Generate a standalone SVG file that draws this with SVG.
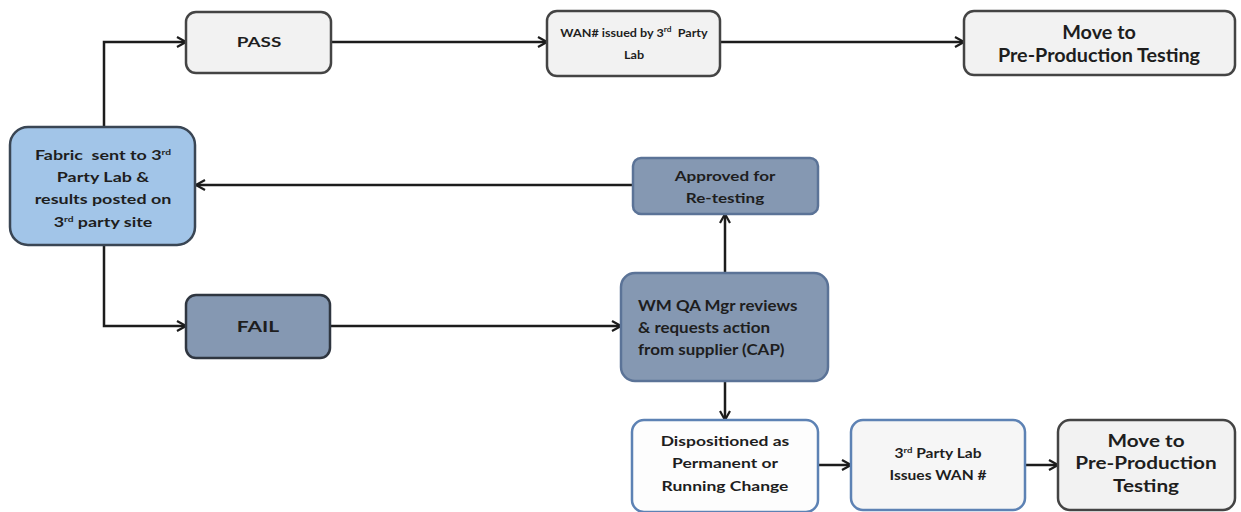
<svg xmlns="http://www.w3.org/2000/svg" width="1241" height="512" viewBox="0 0 1241 512">
<style>
text{font-family:"Lato","Open Sans","Liberation Sans",sans-serif;font-weight:bold;fill:#1e1e1e;text-anchor:middle}
.l{text-anchor:start}
.box{stroke-width:2.5}
.grey{fill:#f2f2f2;stroke:#444}
.blue{fill:#a2c5e8;stroke:#3a4654}
.slate{fill:#8598b2;stroke:#5b7397}
.white{fill:#fdfdfd;stroke:#5d82b4}
.conn path{fill:none;stroke:#1c1c1c;stroke-width:2.5}
.s{font-size:8px}
</style>
<defs>
<marker id="arr" viewBox="0 0 12 12" refX="11" refY="6" markerWidth="12" markerHeight="12" markerUnits="userSpaceOnUse" orient="auto">
<path d="M2,1 L11,6 L2,11" fill="none" stroke="#1c1c1c" stroke-width="2.2"/>
</marker>
</defs>
<g class="conn">
<path d="M104,127 V42 H186" marker-end="url(#arr)"/>
<path d="M331,42 H547" marker-end="url(#arr)"/>
<path d="M720,42 H964" marker-end="url(#arr)"/>
<path d="M633,185 H196" marker-end="url(#arr)"/>
<path d="M104,245 V326 H186" marker-end="url(#arr)"/>
<path d="M330,326 H621" marker-end="url(#arr)"/>
<path d="M725,273 V214" marker-end="url(#arr)"/>
<path d="M725,381 V420" marker-end="url(#arr)"/>
<path d="M818,465 H851" marker-end="url(#arr)"/>
<path d="M1025,465 H1058" marker-end="url(#arr)"/>
</g>
<g id="fabric">
<rect class="box blue" x="10" y="127" width="185" height="118" rx="18"/>
<g font-size="14">
<text transform="translate(103 160) scale(1.28 1)" xml:space="preserve">Fabric  sent to 3<tspan class="s" dy="-5">rd</tspan></text>
<text transform="translate(103 182) scale(1.28 1)">Party Lab &amp;</text>
<text transform="translate(103 204) scale(1.28 1)">results posted on</text>
<text transform="translate(103 227) scale(1.28 1)">3<tspan class="s" dy="-5">rd</tspan><tspan dy="5"> party site</tspan></text>
</g>
</g>
<g id="pass">
<rect class="box grey" x="186" y="12" width="145" height="61" rx="10"/>
<text font-size="14" transform="translate(259 47) scale(1.35 1)">PASS</text>
</g>
<g id="wan">
<rect class="box grey" x="547" y="11" width="173" height="65" rx="10"/>
<g font-size="12">
<text transform="translate(634 37) scale(1.05 1)" xml:space="preserve">WAN# issued by 3<tspan class="s" dy="-5">rd</tspan><tspan dy="5">  Party</tspan></text>
<text transform="translate(634 59) scale(1.05 1)">Lab</text>
</g>
</g>
<g id="move1">
<rect class="box grey" x="964" y="11" width="271" height="64" rx="10"/>
<g font-size="18">
<text transform="translate(1099 39) scale(1.1 1)">Move to</text>
<text transform="translate(1099 62) scale(1.1 1)">Pre-Production Testing</text>
</g>
</g>
<g id="approved">
<rect class="box slate" x="633" y="158" width="185" height="56" rx="8"/>
<g font-size="14">
<text transform="translate(725 181) scale(1.22 1)">Approved for</text>
<text transform="translate(725 203) scale(1.22 1)">Re-testing</text>
</g>
</g>
<g id="wmqa">
<rect class="box slate" x="621" y="273" width="207" height="108" rx="14"/>
<g font-size="15">
<text class="l" transform="translate(638 311) scale(1.13 1)">WM QA Mgr reviews</text>
<text class="l" transform="translate(638 333) scale(1.13 1)">&amp; requests action</text>
<text class="l" transform="translate(638 355) scale(1.13 1)">from supplier (CAP)</text>
</g>
</g>
<g id="fail">
<rect class="box slate" x="186" y="295" width="144" height="63" rx="10" style="stroke:#2f3640"/>
<text font-size="15" transform="translate(258 332) scale(1.4 1)">FAIL</text>
</g>
<g id="disp">
<rect class="box white" x="632" y="420" width="186" height="92" rx="12"/>
<g font-size="14">
<text transform="translate(725 446) scale(1.25 1)">Dispositioned as</text>
<text transform="translate(725 468) scale(1.25 1)">Permanent or</text>
<text transform="translate(725 491) scale(1.25 1)">Running Change</text>
</g>
</g>
<g id="lab">
<rect class="box white" x="851" y="420" width="174" height="90" rx="12" style="fill:#f6f6f6"/>
<g font-size="13">
<text transform="translate(938 458) scale(1.2 1)">3<tspan class="s" dy="-5">rd</tspan><tspan dy="5"> Party Lab</tspan></text>
<text transform="translate(938 480) scale(1.2 1)">Issues WAN #</text>
</g>
</g>
<g id="move2">
<rect class="box grey" x="1058" y="420" width="177" height="90" rx="12"/>
<g font-size="17">
<text transform="translate(1146 447) scale(1.22 1)">Move to</text>
<text transform="translate(1146 469) scale(1.22 1)">Pre-Production</text>
<text transform="translate(1146 492) scale(1.22 1)">Testing</text>
</g>
</g>
</svg>
